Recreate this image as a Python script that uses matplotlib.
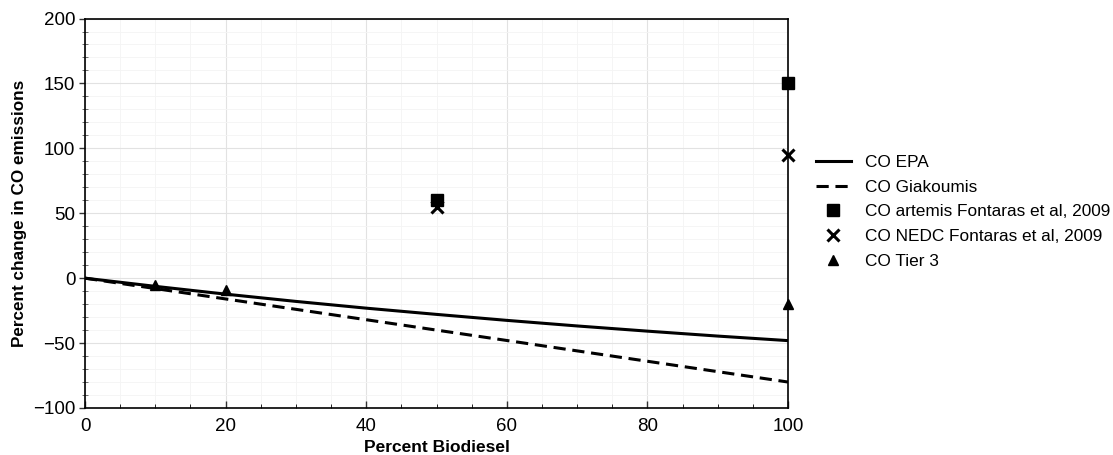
import matplotlib
matplotlib.use("Agg")
import matplotlib.pyplot as plt
from matplotlib.ticker import MultipleLocator

plt.rcParams['font.family'] = ['Liberation Sans', 'DejaVu Sans']

# Data
biodiesel = [0, 10, 20, 30, 40, 50, 60, 70, 80, 90, 100]
co_epa = [0, -6.3, -12.3, -17.9, -23.1, -27.9, -32.5, -36.8, -40.8, -44.6, -48.1]
co_giakoumis = [0, -8, -16, -24, -32, -40, -48, -56, -64, -72, -80]
artemis_x = [50, 100]
artemis_y = [60, 150]
nedc_x = [50, 100]
nedc_y = [55, 95]
tier3_x = [10, 20, 100]
tier3_y = [-5, -9, -20]

fig = plt.figure(figsize=(11.13, 4.55), dpi=100)
ax = fig.add_axes([0.0764, 0.1033, 0.6316, 0.856])

ax.plot(biodiesel, co_epa, color='black', lw=2.2, label='CO EPA')
ax.plot(biodiesel, co_giakoumis, color='black', lw=2.2, dashes=(4, 2.2), label='CO Giakoumis')
ax.plot(artemis_x, artemis_y, ls='none', marker='s', ms=8, color='black',
        label='CO artemis Fontaras et al, 2009', clip_on=False, zorder=5)
ax.plot(nedc_x, nedc_y, ls='none', marker='x', ms=9, mew=2.2, color='black',
        label='CO NEDC Fontaras et al, 2009', clip_on=False, zorder=5)
ax.plot(tier3_x, tier3_y, ls='none', marker='^', ms=7.5, color='black',
        label='CO Tier 3', clip_on=False, zorder=5)

ax.set_xlim(0, 100)
ax.set_ylim(-100, 200)
ax.xaxis.set_major_locator(MultipleLocator(20))
ax.xaxis.set_minor_locator(MultipleLocator(5))
ax.yaxis.set_major_locator(MultipleLocator(50))
ax.yaxis.set_minor_locator(MultipleLocator(10))

ax.grid(which='major', color='#e2e2e2', lw=0.8)
ax.grid(which='minor', color='#f4f4f4', lw=0.6)
ax.set_axisbelow(True)

for s in ax.spines.values():
    s.set_color('black')
    s.set_linewidth(1.2)

ax.tick_params(axis='both', which='major', labelsize=13.5, length=4, width=1, color='#333333')
ax.tick_params(axis='x', which='major', direction='in', length=5, pad=7.5)
ax.tick_params(axis='x', which='minor', direction='in', length=3)
ax.tick_params(axis='y', which='major', direction='out', length=4, pad=3)
ax.tick_params(axis='y', which='minor', direction='inout', length=4, color='#555555')

ax.set_xlabel('Percent Biodiesel', fontsize=12.5, fontweight='bold')
ax.set_ylabel('Percent change in CO emissions', fontsize=12.3, fontweight='bold')
ax.xaxis.set_label_coords(0.5, -0.082)
ax.yaxis.set_label_coords(-0.083, 0.5)

leg = ax.legend(loc='center left', bbox_to_anchor=(1.04, 0.504), frameon=False,
                fontsize=12.4, handlelength=2.0, handletextpad=0.85,
                borderaxespad=0, borderpad=0, labelspacing=0.56)

fig.savefig('out.png', dpi=100)
